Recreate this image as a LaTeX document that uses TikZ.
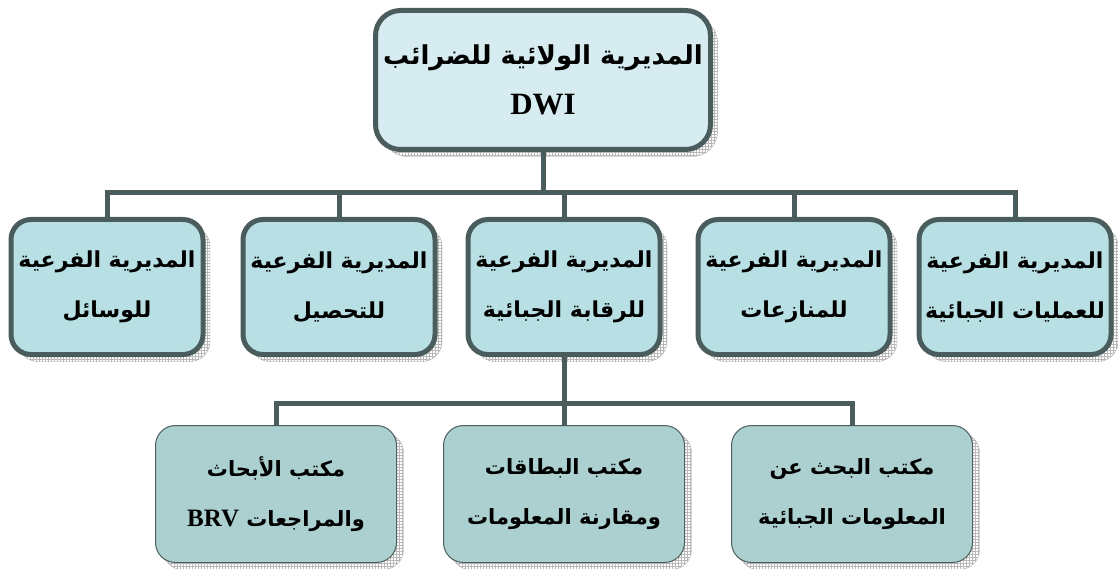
\documentclass[tikz,border=0pt]{standalone}
\usepackage{fontspec}
\setmainfont{Liberation Serif}
\newfontfamily\arabicfont[Script=Arabic]{DejaVu Sans}
\TeXXeTstate=1
\usetikzlibrary{positioning, calc, patterns}

\newcommand{\artxt}[1]{{\arabicfont\bfseries\beginR #1\endR}}

\begin{document}
\begin{tikzpicture}[x=1pt, y=-1pt, line join=miter]
    % Define local colors
    \definecolor{topf}{RGB}{215, 236, 240} \definecolor{midf}{RGB}{184, 224, 228}
    \definecolor{lowf}{RGB}{172, 208, 208} \definecolor{edge}{RGB}{75, 92, 92}
    \tikzset{
        shade box/.style={preaction={fill=white, draw=gray!70, thin, transform canvas={shift={(7pt,-7pt)}}},
                          preaction={pattern=grid, pattern color=gray!55, transform canvas={shift={(7pt,-7pt)}}}},
        unitbox/.style={shade box, draw=edge, line width=5pt, rounded corners=20pt, fill=midf, align=center,
                        minimum width=192pt, minimum height=135pt, font=\fontsize{22pt}{50pt}\selectfont},
        officebox/.style={unitbox, line width=1pt, fill=lowf, minimum width=241pt, minimum height=137pt,
                          font=\fontsize{21pt}{50pt}\selectfont},
        link/.style={draw=edge, line width=5pt}
    }
    \useasboundingbox (0,0) rectangle (1118,569);

    % LEVEL 1: Wilaya directorate
    \node[unitbox, fill=topf, minimum width=335pt, minimum height=139pt, rounded corners=25pt,
          font=\fontsize{26pt}{50pt}\selectfont] (dwi) at (543, 80)
        {\artxt{المديرية الولائية للضرائب}\\{\bfseries\fontsize{31pt}{31pt}\selectfont DWI}};

    % LEVEL 2: Sub-directorates (u1 - u5)
    \foreach \i/\x/\lb in {1/107/{للوسائل}, 2/339/{للتحصيل}, 3/564/{للرقابة الجبائية},
                           4/794/{للمنازعات}, 5/1015/{للعمليات الجبائية}} {
        \node[unitbox] (u\i) at (\x, 287) {\artxt{المديرية الفرعية}\\\artxt{\lb}};
    }

    % LEVEL 3: Offices (b1 - b3)
    \node[officebox] (b1) at (276, 494) {\artxt{مكتب الأبحاث}\\{\arabicfont\bfseries\beginR والمراجعات \beginL{\rmfamily\fontsize{25pt}{25pt}\selectfont BRV}\endL\endR}};
    \node[officebox] (b2) at (564, 494) {\artxt{مكتب البطاقات}\\\artxt{ومقارنة المعلومات}};
    \node[officebox] (b3) at (852, 494) {\artxt{مكتب البحث عن}\\\artxt{المعلومات الجبائية}};

    % Connectors
    \coordinate (bus1) at (543, 193);
    \coordinate (bus2) at (564, 403);
    \draw[link] (dwi.south) -- (bus1);
    \foreach \i in {1,...,5} {
        \draw[link] (bus1) -| (u\i.north);
    }
    \draw[link] (u3.south) -- (bus2);
    \foreach \i in {1,2,3} {
        \draw[link] (bus2) -| (b\i.north);
    }
\end{tikzpicture}
\end{document}
